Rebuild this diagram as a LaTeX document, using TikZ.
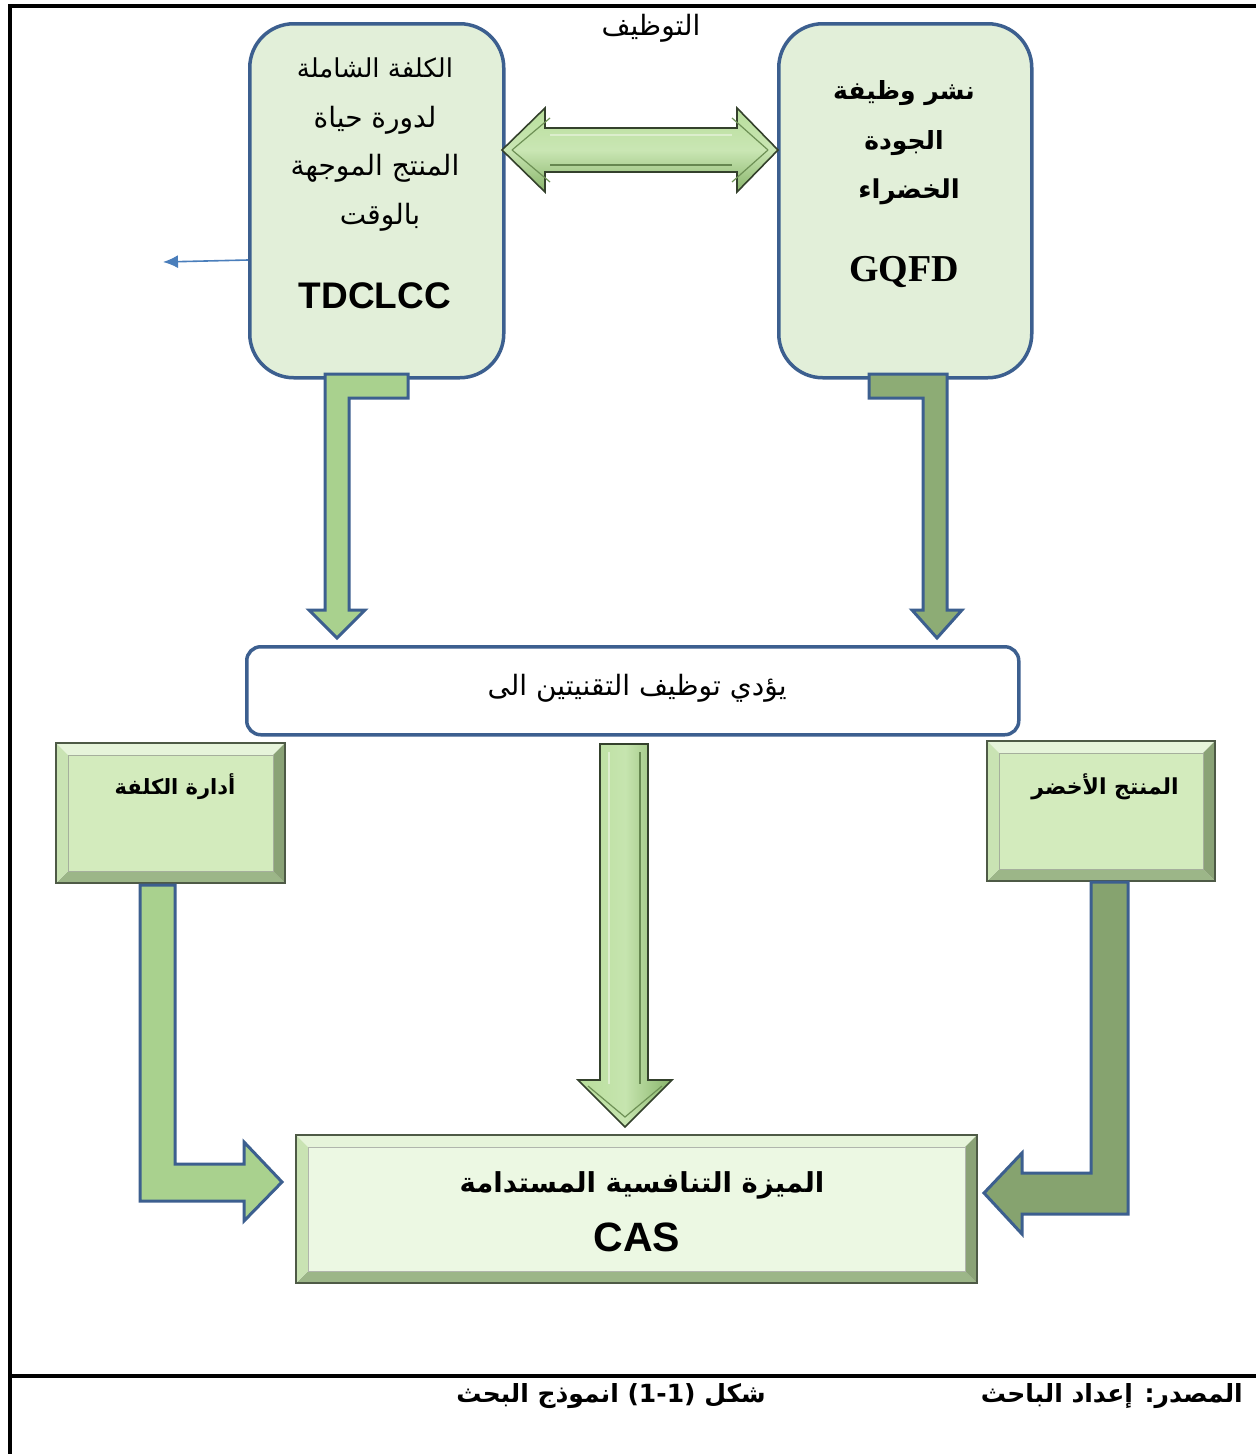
\documentclass[tikz,border=0pt]{standalone}
\usepackage{fontspec}
\setmainfont{Liberation Serif}
\newfontfamily\ar[Script=Arabic]{DejaVu Sans}
\newfontfamily\arialf{Liberation Sans}
\newfontfamily\timesf{Liberation Serif}
\TeXXeTstate=1
\usetikzlibrary{arrows.meta}
\definecolor{bord}{HTML}{3C5F8F}
\definecolor{boxfill}{HTML}{E2EFD9}
\definecolor{arlight}{HTML}{A9D18E}
\definecolor{ardark}{HTML}{8DAC75}
\definecolor{bevtop}{HTML}{E6F4DA}
\definecolor{bevbot}{HTML}{9CB688}
\definecolor{bevleft}{HTML}{C9E3B3}
\definecolor{bevright}{HTML}{8AA276}
\definecolor{bevline}{HTML}{4E5A46}
\definecolor{faceA}{HTML}{D3EBBD}
\definecolor{faceB}{HTML}{ECF8E3}
\definecolor{bluearr}{HTML}{4A7EBB}
\definecolor{gedge}{HTML}{88B46A}
\definecolor{gmid}{HTML}{B8DE9B}
\definecolor{goutl}{HTML}{34412C}
\newcommand\mkbevel[6]{%
\fill[bevtop] (#1,#2) -- (#3,#2) -- (#3-#6,#2+#6) -- (#1+#6,#2+#6) -- cycle;
\fill[bevbot] (#1,#4) -- (#3,#4) -- (#3-#6,#4-#6) -- (#1+#6,#4-#6) -- cycle;
\fill[bevleft] (#1,#2) -- (#1+#6,#2+#6) -- (#1+#6,#4-#6) -- (#1,#4) -- cycle;
\fill[bevright] (#3,#2) -- (#3-#6,#2+#6) -- (#3-#6,#4-#6) -- (#3,#4) -- cycle;
\draw[#5!60!black!70, fill=#5, line width=0.8pt] (#1+#6,#2+#6) rectangle (#3-#6,#4-#6);
\draw[bevline, line width=2.5pt] (#1,#2) rectangle (#3,#4);}
\begin{document}
\begin{tikzpicture}[x=1pt,y=-1pt,
  frameline/.style={line width=3.4pt,black},
  rbox/.style={draw=bord,line width=3.5pt,fill=boxfill,rounded corners=44pt,inner sep=0pt,anchor=north west},
  mbox/.style={draw=bord,line width=3.5pt,fill=white,rounded corners=14pt,inner sep=0pt,anchor=north west},
  blockarrow/.style={draw=bord,line width=3pt,line join=miter},
  bevarrow/.style={draw=goutl,line width=1.6pt,line join=miter},
  artext/.style={font=\ar\fontsize{28}{32}\selectfont,inner sep=0pt},
  arbold/.style={font=\ar\bfseries\fontsize{25}{29}\selectfont,inner sep=0pt}]
\useasboundingbox (0,0) rectangle (1256,1454);
\fill[white] (0,0) rectangle (1256,1454);
% frame
\draw[frameline] (1256,6) -- (10,6) -- (10,1454);
\draw[frameline] (10,1376) -- (1256,1376);
% top boxes
\node[rbox, minimum width=254pt, minimum height=354pt] (tdc) at (248,22) {};
\node[rbox, minimum width=253pt, minimum height=354pt] (gq) at (777,22) {};
% double arrow
\path[bevarrow, top color=gmid, bottom color=gedge, middle color=gmid!75!white]
  (502,150) -- (545,108) -- (545,128) -- (737,128) -- (737,108) -- (778,150) -- (737,192) -- (737,172) -- (545,172) -- (545,192) -- cycle;
\draw[gedge!80!black, line width=1.2pt] (512,150) -- (550,118);
\draw[gedge!80!black, line width=1.2pt] (512,150) -- (550,182);
\draw[gedge!80!black, line width=1.2pt] (768,150) -- (732,118);
\draw[gedge!80!black, line width=1.2pt] (768,150) -- (732,182);
\draw[white!50!gmid, line width=2pt] (550,135) -- (732,135);
\draw[gedge!75!black, line width=1.6pt] (550,165) -- (732,165);
% texts in boxes
\node[artext] (tw) at (651,28) {\beginR التوظيف\endR};
\node[artext, font=\ar\fontsize{26}{30}\selectfont] (l1) at (375,68) {\beginR الكلفة الشاملة\endR};
\node[artext] (l2) at (375,120) {\beginR لدورة حياة\endR};
\node[artext] (l3) at (375,168) {\beginR المنتج الموجهة\endR};
\node[artext] (l4) at (380,217) {\beginR بالوقت\endR};
\node[font=\arialf\bfseries\fontsize{37}{40}\selectfont,inner sep=0pt] (l5) at (375,296) {TDCLCC};
\node[arbold] (r1) at (904,93) {\beginR نشر وظيفة\endR};
\node[arbold] (r2) at (904,143) {\beginR الجودة\endR};
\node[arbold, font=\ar\bfseries\fontsize{26}{29}\selectfont] (r3) at (909,192) {\beginR الخضراء\endR};
\node[font=\timesf\bfseries\fontsize{38}{40}\selectfont,inner sep=0pt] (r4) at (904,272) {GQFD};
% blue small arrow
\coordinate (bs) at (248,260);
\coordinate (be) at (163,262);
\draw[bluearr, line width=1.6pt, -{Latex[length=15pt,width=13pt]}] (bs) -- (be);
% bent down arrows
\path[blockarrow, fill=arlight] (325,374) -- (408,374) -- (408,398) -- (349,398) -- (349,610) -- (365,610) -- (337,638) -- (309,610) -- (325,610) -- cycle;
\path[blockarrow, fill=ardark] (869,374) -- (947,374) -- (947,610) -- (962,610) -- (937,638) -- (912,610) -- (923,610) -- (923,398) -- (869,398) -- cycle;
% middle box
\node[mbox, minimum width=772pt, minimum height=88pt] (mid) at (245,645) {};
\node[artext] (mt) at (637,688) {\beginR يؤدي توظيف التقنيتين الى\endR};
% bevel boxes
\mkbevel{56}{743}{285}{883}{faceA}{12}
\coordinate (cost) at (170,813);
\node[arbold, font=\ar\bfseries\fontsize{21}{24}\selectfont] (ct) at (175,787) {\beginR أدارة الكلفة\endR};
\mkbevel{987}{741}{1215}{881}{faceA}{12}
\coordinate (green) at (1101,811);
\node[arbold, font=\ar\bfseries\fontsize{22}{25}\selectfont] (gt) at (1105,787) {\beginR المنتج الأخضر\endR};
\mkbevel{296}{1135}{977}{1283}{faceB}{12}
\coordinate (cas) at (636,1209);
\node[arbold, font=\ar\bfseries\fontsize{27.5}{31}\selectfont] (c1) at (642,1185) {\beginR الميزة التنافسية المستدامة\endR};
\node[font=\arialf\bfseries\fontsize{41}{44}\selectfont,inner sep=0pt] (c2) at (637,1237) {CAS};
% middle vertical arrow
\path[bevarrow, left color=gmid, right color=gedge, middle color=gmid!80!white]
  (600,744) -- (648,744) -- (648,1080) -- (672,1080) -- (625,1127) -- (578,1080) -- (600,1080) -- cycle;
\draw[white!50!gmid, line width=1.8pt] (609,752) -- (609,1084);
\draw[gedge!75!black, line width=1.6pt] (640,752) -- (640,1084);
\draw[gedge!80!black, line width=1.2pt] (588,1086) -- (625,1117) -- (662,1086);
% L arrows
\path[blockarrow, fill=arlight] (140,885) -- (175,885) -- (175,1164) -- (244,1164) -- (244,1142) -- (282,1182) -- (244,1221) -- (244,1201) -- (140,1201) -- cycle;
\path[blockarrow, fill=ardark!95!black] (1091,882) -- (1128,882) -- (1128,1214) -- (1022,1214) -- (1022,1234) -- (984,1193) -- (1022,1153) -- (1022,1173) -- (1091,1173) -- cycle;
% bottom captions
\node[arbold, anchor=east] (src) at (1243,1396) {\beginR المصدر: إعداد الباحث\endR};
\node[arbold] (fig) at (611,1396) {\beginR شكل \beginL(1-1)\endL{} انموذج البحث\endR};
\end{tikzpicture}
\end{document}
